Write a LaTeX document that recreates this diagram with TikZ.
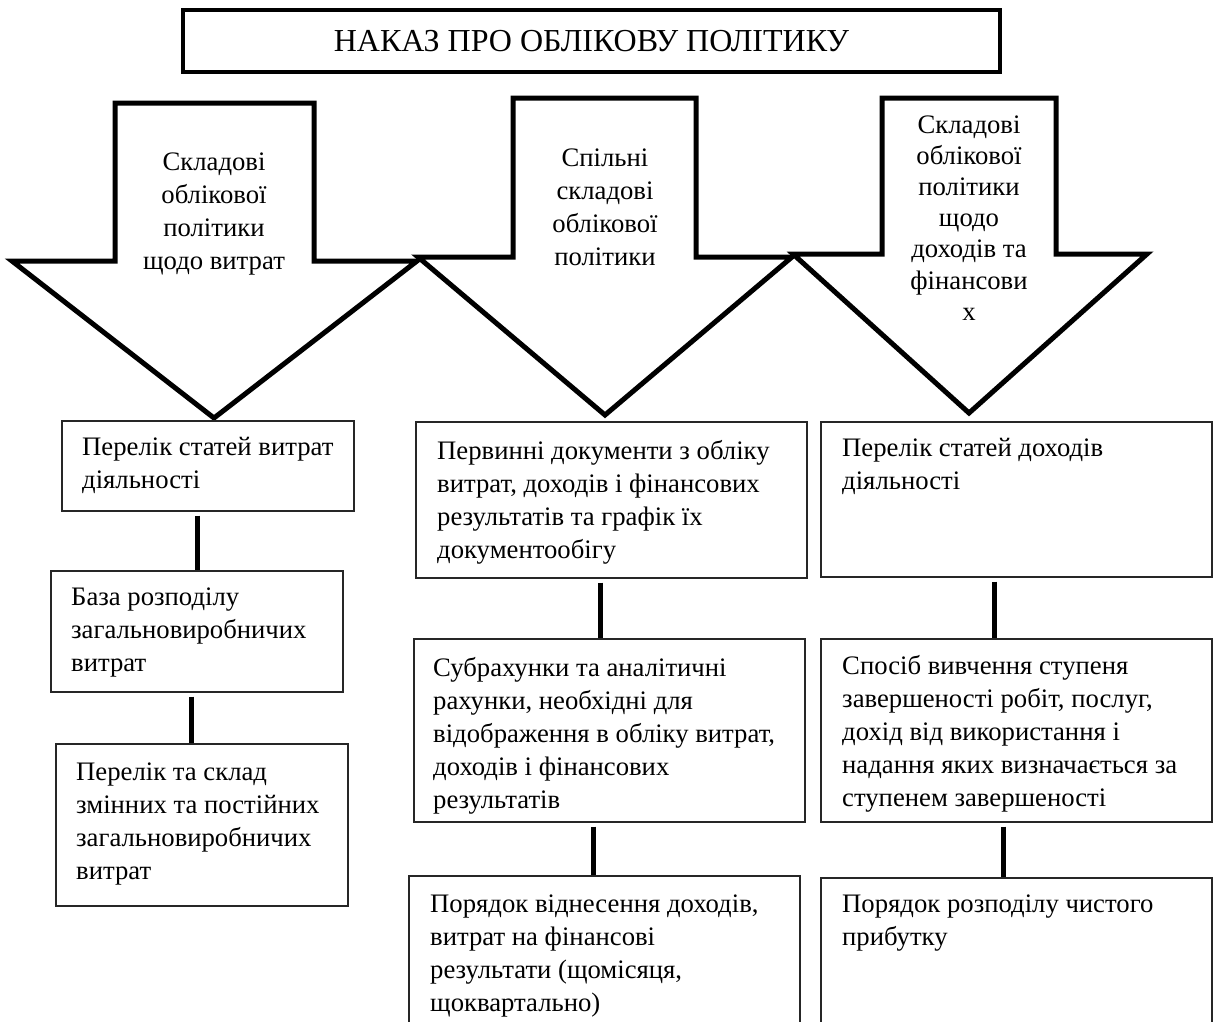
\documentclass[tikz,border=0pt]{standalone}
\usepackage{fontspec}
\setmainfont{Liberation Serif}
\begin{document}
\begin{tikzpicture}[x=1pt,y=-1pt,
  bigarrow/.style={draw=black, fill=white, line width=5pt, line join=miter},
  titlebox/.style={draw=black, line width=4pt, inner sep=0pt,
    font=\fontsize{32}{38}\selectfont},
  itembox/.style={draw=black!85, line width=1.3pt, inner sep=0pt},
  link/.style={draw=black, line width=5pt, shorten <=4pt},
  itemtext/.style={inner sep=0pt, anchor=base west,
    font=\fontsize{26.7}{33}\selectfont},
  arrowtext/.style={inner sep=0pt, anchor=base,
    font=\fontsize{26.7}{33}\selectfont},
]
\useasboundingbox (0,0) rectangle (1217,1021);
\clip (0,0) rectangle (1217,1021);
\fill[white] (0,0) rectangle (1217,1021);

% heading
\node[titlebox, minimum width=817pt, minimum height=62pt] (title) at (591.5,41)
  {НАКАЗ ПРО ОБЛІКОВУ ПОЛІТИКУ};

% three block arrows
\draw[bigarrow] (115,103) -- (314,103) -- (314,261) -- (417,261) -- (214,418)
  -- (12,261) -- (115,261) -- cycle;
\draw[bigarrow] (513,98) -- (696,98) -- (696,257) -- (792,257) -- (605,415)
  -- (418,257) -- (513,257) -- cycle;
\draw[bigarrow] (882,98) -- (1056,98) -- (1056,254) -- (1147,254) -- (969,413)
  -- (793,254) -- (882,254) -- cycle;

\node[arrowtext] (costs) at (214,170)
  {\parbox[t]{220pt}{\centering Складові\\облікової\\політики\\щодо витрат}};
\node[arrowtext] (common) at (605,166)
  {\parbox[t]{220pt}{\centering Спільні\\складові\\облікової\\політики}};
\node[arrowtext, font=\fontsize{26.7}{31.2}\selectfont] (income) at (969,133)
  {\parbox[t]{220pt}{\centering Складові\\облікової\\політики\\щодо\\доходів та\\фінансови\\х}};

% left column
\node[itembox, minimum width=292pt, minimum height=90pt]  (L1) at (208,466) {};
\node[itembox, minimum width=292pt, minimum height=121pt] (L2) at (197,631.5) {};
\node[itembox, minimum width=292pt, minimum height=162pt] (L3) at (202,825) {};

% middle column
\node[itembox, minimum width=391pt, minimum height=156pt] (M1) at (611.5,500) {};
\node[itembox, minimum width=391pt, minimum height=183pt] (M2) at (609.5,730.5) {};
\node[itembox, minimum width=391pt, minimum height=184pt] (M3) at (604.5,968) {};

% right column
\node[itembox, minimum width=391pt, minimum height=155pt] (R1) at (1016.5,499.5) {};
\node[itembox, minimum width=391pt, minimum height=183pt] (R2) at (1016.5,730.5) {};
\node[itembox, minimum width=391pt, minimum height=182pt] (R3) at (1016.5,969) {};

% box texts
\node[itemtext] (L1t) at (82,455)
  {\parbox[t]{270pt}{\raggedright Перелік статей витрат\\діяльності}};
\node[itemtext] (L2t) at (71,605)
  {\parbox[t]{270pt}{\raggedright База розподілу\\загальновиробничих\\витрат}};
\node[itemtext] (L3t) at (76,780)
  {\parbox[t]{270pt}{\raggedright Перелік та склад\\змінних та постійних\\загальновиробничих\\витрат}};

\node[itemtext] (M1t) at (437,459)
  {\parbox[t]{370pt}{\raggedright Первинні документи з обліку\\витрат, доходів і фінансових\\результатів та графік їх\\документообігу}};
\node[itemtext] (M2t) at (433,676)
  {\parbox[t]{370pt}{\raggedright Субрахунки та аналітичні\\рахунки, необхідні для\\відображення в обліку витрат,\\доходів і фінансових\\результатів}};
\node[itemtext] (M3t) at (430,912)
  {\parbox[t]{370pt}{\raggedright Порядок віднесення доходів,\\витрат на фінансові\\результати (щомісяця,\\щоквартально)}};

\node[itemtext] (R1t) at (842,456)
  {\parbox[t]{370pt}{\raggedright Перелік статей доходів\\діяльності}};
\node[itemtext] (R2t) at (842,674)
  {\parbox[t]{370pt}{\raggedright Спосіб вивчення ступеня\\завершеності робіт, послуг,\\дохід від використання і\\надання яких визначається за\\ступенем завершеності}};
\node[itemtext] (R3t) at (842,912)
  {\parbox[t]{370pt}{\raggedright Порядок розподілу чистого\\прибутку}};

% connectors between boxes
\coordinate (xl1) at (197,0);
\coordinate (xl2) at (191,0);
\coordinate (xm1) at (600,0);
\coordinate (xm2) at (593,0);
\coordinate (xr1) at (994,0);
\coordinate (xr2) at (1003,0);
\draw[link] (L1.south -| xl1) -- (L2.north -| xl1);
\draw[link] (L2.south -| xl2) -- (L3.north -| xl2);
\draw[link] (M1.south -| xm1) -- (M2.north -| xm1);
\draw[link] (M2.south -| xm2) -- (M3.north -| xm2);
\draw[link] (R1.south -| xr1) -- (R2.north -| xr1);
\draw[link] (R2.south -| xr2) -- (R3.north -| xr2);
\end{tikzpicture}
\end{document}
